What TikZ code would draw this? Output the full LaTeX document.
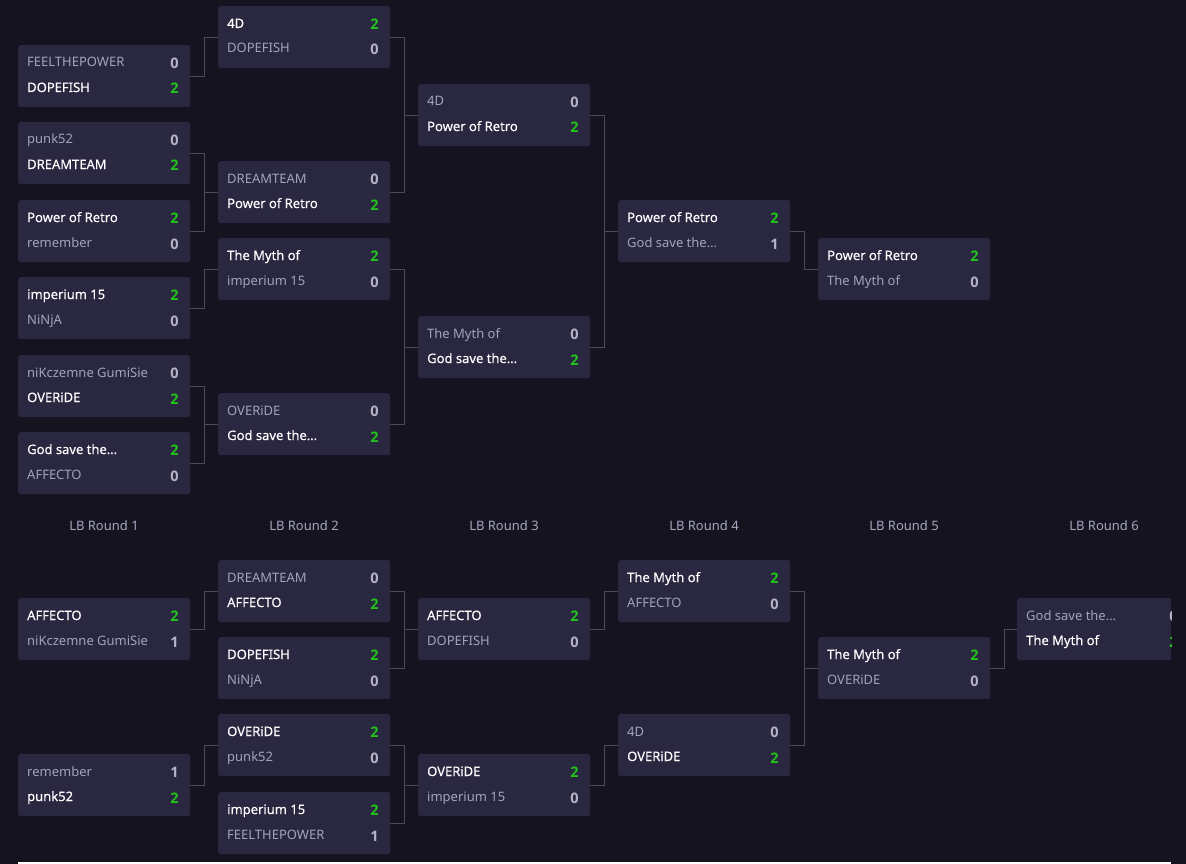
\documentclass[tikz,border=0pt]{standalone}
\usepackage{fontspec}
\setmainfont{Noto Sans}
\newfontfamily\winfont[FakeBold=0.3]{Noto Sans}
\newfontfamily\scorefont{Open Sans}
\definecolor{bg}{HTML}{15131F}
\definecolor{boxc}{HTML}{2A2740}
\definecolor{linec}{HTML}{4A4A5E}
\definecolor{lose}{HTML}{A2A4BE}
\definecolor{losesc}{HTML}{B4B4C6}
\definecolor{wing}{HTML}{22C41A}
\definecolor{lbl}{HTML}{A3A8BE}
\tikzset{
  matchbg/.style={fill=boxc, rounded corners=2.5pt, minimum width=172pt, minimum height=62pt, inner sep=0pt, anchor=north west, draw=none},
  team/.style={anchor=base west, inner sep=0pt, font=\fontsize{13}{15}\selectfont},
  score/.style={anchor=base, inner sep=0pt, font=\scorefont\fontsize{14.5}{17}\selectfont\bfseries},
  conn/.style={draw=linec, line width=1.2pt},
  lblstyle/.style={text=lbl, font=\fontsize{13}{15}\selectfont, inner sep=0pt},
}
\newcommand\matchbox[7]{%
  \node[matchbg] (#1) at (#2,#3) {};
  \ifnum#5=2 \def\tmca{white}\def\tmsa{wing}\def\tmfa{\winfont}\else\def\tmca{lose}\def\tmsa{losesc}\def\tmfa{}\fi
  \ifnum#7=2 \def\tmcb{white}\def\tmsb{wing}\def\tmfb{\winfont}\else\def\tmcb{lose}\def\tmsb{losesc}\def\tmfb{}\fi
  \node[team, text=\tmca] (#1-a) at (#2+9,#3+22) {\tmfa #4};
  \node[score, text=\tmsa] (#1-sa) at (#2+156.5,#3+23.3) {#5};
  \node[team, text=\tmcb] (#1-b) at (#2+9,#3+47) {\tmfb #6};
  \node[score, text=\tmsb] (#1-sb) at (#2+156.5,#3+49) {#7};
}
\newcommand\linkto[2]{\draw[conn] (#1.east) -- ++(14,0) |- (#2.west);}
\begin{document}
\begin{tikzpicture}[x=1pt,y=-1pt]
\fill[bg] (0,0) rectangle (1186,864);
\useasboundingbox (0,0) rectangle (1186,864);
% winners bracket
\matchbox{wa}{18}{45}{FEELTHEPOWER}{0}{DOPEFISH}{2}
\matchbox{wb}{18}{122}{punk52}{0}{DREAMTEAM}{2}
\matchbox{wc}{18}{200}{Power of Retro}{2}{remember}{0}
\matchbox{wd}{18}{277}{imperium 15}{2}{NiNjA}{0}
\matchbox{we}{18}{355}{niKczemne GumiSie}{0}{OVERiDE}{2}
\matchbox{wf}{18}{432}{God save the…}{2}{AFFECTO}{0}
\matchbox{wg}{218}{6}{4D}{2}{DOPEFISH}{0}
\matchbox{wh}{218}{161}{DREAMTEAM}{0}{Power of Retro}{2}
\matchbox{wi}{218}{238}{The Myth of}{2}{imperium 15}{0}
\matchbox{wj}{218}{393}{OVERiDE}{0}{God save the…}{2}
\matchbox{wk}{418}{84}{4D}{0}{Power of Retro}{2}
\matchbox{wl}{418}{316}{The Myth of}{0}{God save the…}{2}
\matchbox{wm}{618}{200}{Power of Retro}{2}{God save the…}{1}
\matchbox{wn}{818}{238}{Power of Retro}{2}{The Myth of}{0}
\linkto{wa}{wg}
\linkto{wb}{wh}
\linkto{wc}{wh}
\linkto{wd}{wi}
\linkto{we}{wj}
\linkto{wf}{wj}
\linkto{wg}{wk}
\linkto{wh}{wk}
\linkto{wi}{wl}
\linkto{wj}{wl}
\linkto{wk}{wm}
\linkto{wl}{wm}
\linkto{wm}{wn}
% round labels
\node[lblstyle] (r1) at (104,526) {LB Round 1};
\node[lblstyle] (r2) at (304,526) {LB Round 2};
\node[lblstyle] (r3) at (504,526) {LB Round 3};
\node[lblstyle] (r4) at (704,526) {LB Round 4};
\node[lblstyle] (r5) at (904,526) {LB Round 5};
\node[lblstyle] (r6) at (1104,526) {LB Round 6};
% losers bracket
\matchbox{la}{18}{598}{AFFECTO}{2}{niKczemne GumiSie}{1}
\matchbox{lb}{18}{754}{remember}{1}{punk52}{2}
\matchbox{lc}{218}{560}{DREAMTEAM}{0}{AFFECTO}{2}
\matchbox{ld}{218}{637}{DOPEFISH}{2}{NiNjA}{0}
\matchbox{le}{218}{714}{OVERiDE}{2}{punk52}{0}
\matchbox{lf}{218}{792}{imperium 15}{2}{FEELTHEPOWER}{1}
\matchbox{lg}{418}{598}{AFFECTO}{2}{DOPEFISH}{0}
\matchbox{lh}{418}{754}{OVERiDE}{2}{imperium 15}{0}
\matchbox{li}{618}{560}{The Myth of}{2}{AFFECTO}{0}
\matchbox{lj}{618}{714}{4D}{0}{OVERiDE}{2}
\matchbox{lk}{818}{637}{The Myth of}{2}{OVERiDE}{0}
\begin{scope}
\clip (0,0) rectangle (1171,864);
\matchbox{ll}{1017}{598}{God save the…}{0}{The Myth of}{2}
\end{scope}
\linkto{la}{lc}
\linkto{lb}{le}
\linkto{lc}{lg}
\linkto{ld}{lg}
\linkto{le}{lh}
\linkto{lf}{lh}
\linkto{lg}{li}
\linkto{lh}{lj}
\linkto{li}{lk}
\linkto{lj}{lk}
\linkto{lk}{ll}
\fill[white] (18,862) rectangle (1171,864);
\end{tikzpicture}
\end{document}
